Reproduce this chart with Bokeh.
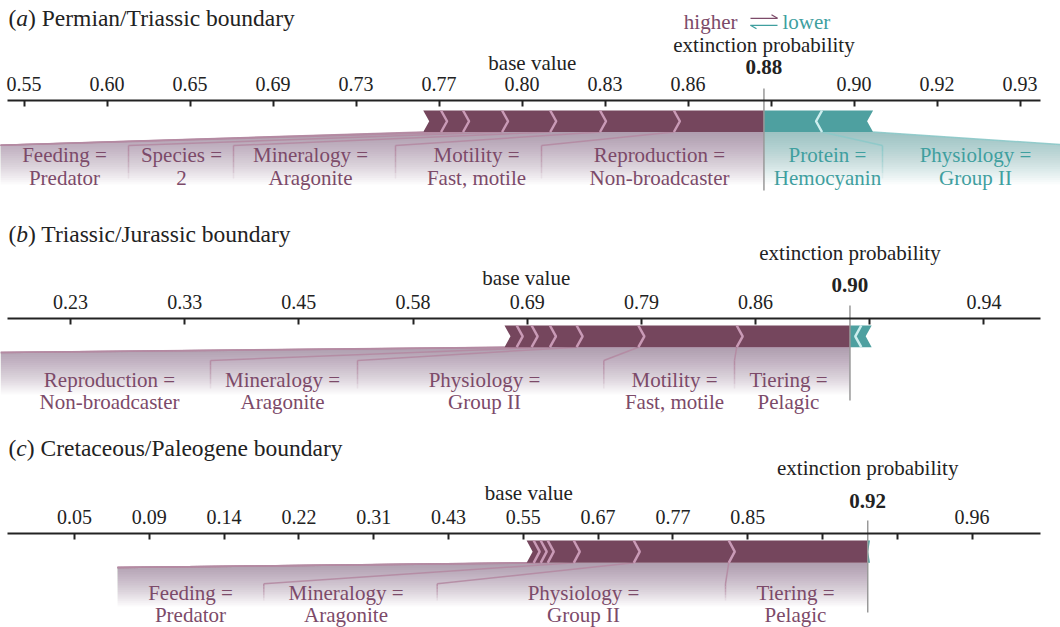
import math
import numpy as np
from bokeh.plotting import figure
from bokeh.layouts import column
from bokeh.models import Range1d, LinearAxis, FixedTicker
from bokeh.core.properties import value
from bokeh.embed import file_html
from bokeh.resources import INLINE

# ---------------------------------------------------------------------------
# Data: SHAP-style additive contributions (log-odds units) per boundary
# ---------------------------------------------------------------------------

# (a) Permian/Triassic boundary
a_title = "Permian/Triassic boundary"
a_output = 0.879
a_pos_features = ["", "", "Feeding", "Species", "Mineralogy", "Motility", "Reproduction"]
a_pos_values = ["", "", "Predator", "2", "Aragonite", "Fast, motile", "Non-broadcaster"]
a_pos_effects = [0.043, 0.053, 0.094, 0.116, 0.120, 0.178, 0.217]
a_neg_features = ["Protein", "Physiology"]
a_neg_values = ["Hemocyanin", "Group II"]
a_neg_effects = [-0.140, -0.123]
a_tick_logits = [0.2, 0.4, 0.6, 0.8, 1.0, 1.2, 1.4, 1.6, 1.8, 2.0, 2.2, 2.4, 2.6]
a_tick_labels = ["0.55", "0.60", "0.65", "0.69", "0.73", "0.77", "0.80", "0.83",
                 "0.86", "", "0.90", "0.92", "0.93"]

# (b) Triassic/Jurassic boundary
b_title = "Triassic/Jurassic boundary"
b_output = 0.904
b_pos_features = ["", "", "Reproduction", "Mineralogy", "Physiology", "Motility", "Tiering"]
b_pos_values = ["", "", "Non-broadcaster", "Aragonite", "Group II", "Fast, motile", "Pelagic"]
b_pos_effects = [0.054, 0.066, 0.081, 0.118, 0.273, 0.435, 0.501]
b_neg_features = ["", ""]
b_neg_values = ["", ""]
b_neg_effects = [-0.050, -0.046]
b_tick_logits = [-1.205, -0.7, -0.195, 0.31, 0.815, 1.32, 1.825, 2.33, 2.835]
b_tick_labels = ["0.23", "0.33", "0.45", "0.58", "0.69", "0.79", "0.86", "", "0.94"]

# (c) Cretaceous/Paleogene boundary
c_title = "Cretaceous/Paleogene boundary"
c_output = 0.917
c_pos_features = ["", "", "", "Feeding", "Mineralogy", "Physiology", "Tiering"]
c_pos_values = ["", "", "", "Predator", "Aragonite", "Group II", "Pelagic"]
c_pos_effects = [0.047, 0.047, 0.047, 0.174, 0.401, 0.635, 0.929]
c_neg_features = [""]
c_neg_values = [""]
c_neg_effects = [-0.015]
c_tick_logits = [-2.9, -2.4, -1.9, -1.4, -0.9, -0.4, 0.1, 0.6, 1.1, 1.6, 2.1, 2.6, 3.1]
c_tick_labels = ["0.05", "0.09", "0.14", "0.22", "0.31", "0.43", "0.55", "0.67",
                 "0.77", "0.85", "", "", "0.96"]

# ---------------------------------------------------------------------------
# Layout (page pixels) for each panel
# ---------------------------------------------------------------------------
LAYOUT = {
    "a": dict(top=0, bottom=205, px0=23.5, L0=0.2, ppu=415.0,
              title_y=25, legend_y=28.3, ext_y=51.7, out_y=74, base_y=70,
              axis_y=100, line_top=88, bar_top=110, bar_bot=131.5, box_top=145,
              fade_end=184, text1_y=161.5, text2_y=184.5,
              corner_left=(-10, 145), corner_right=(1075, 145),
              pos_centers=[None, None, 64, 181, 310, 476, 659],
              pos_edges=[None, None, 128, 233, 395, 541],
              neg_centers=[827, 975], neg_edges=[882]),
    "b": dict(top=205, bottom=420, px0=70.0, L0=-1.205, ppu=226.1,
              title_y=241.7, ext_y=259.3, out_y=291.7, base_y=285,
              axis_y=318, line_top=305, bar_top=325, bar_bot=346.7, box_top=360,
              fade_end=394, text1_y=386.7, text2_y=408.3,
              corner_left=(0, 352), corner_right=None,
              pos_centers=[None, None, 109, 282, 484, 674, 788],
              pos_edges=[None, None, 210, 357, 603.3, 734],
              neg_centers=[None, None], neg_edges=[None]),
    "c": dict(top=420, bottom=627, px0=74.0, L0=-2.9, ppu=149.6,
              title_y=455, ext_y=475, out_y=507.7, base_y=500,
              axis_y=533, line_top=520, bar_top=540, bar_bot=562.3, box_top=583.3,
              fade_end=606, text1_y=600, text2_y=621.7,
              corner_left=(117, 567), corner_right=None,
              pos_centers=[None, None, None, 190, 345.5, 583, 795],
              pos_edges=[None, None, None, 263.3, 436.7, 725],
              neg_centers=[None], neg_edges=[]),
}

SERIF = value("Liberation Serif")
INK = "#222222"
RED_BAR = "#75465d"
TEAL_BAR = "#4ea0a0"
RED_TEXT = "#7c4a69"
TEAL_TEXT = "#3f9f9f"
RED_SEP = "#c99ab6"
TEAL_SEP = "#cdeeee"
RED_LINK = "#b48aa2"
TEAL_LINK = "#8cc9c9"
# the text glyph sits its baseline a little below the anchor; lift by this share of the size
BASELINE_LIFT = 0.34


def logit(p):
    return math.log(p / (1.0 - p))


def clip_chain(chain, ycut):
    """Cut a top-to-bottom polyline at depth ycut."""
    out = [chain[0]]
    for (x0, y0), (x1, y1) in zip(chain[:-1], chain[1:]):
        if y1 <= ycut:
            out.append((x1, y1))
        else:
            if y0 < ycut:
                f = (ycut - y0) / (y1 - y0)
                out.append((x0 + f * (x1 - x0), ycut))
            break
    return out


def build_panel(letter, title, output, pos_feat, pos_val, pos_eff,
                neg_feat, neg_val, neg_eff, ticks, tick_labels, lay, legend=False):
    def to_l(px):
        return lay["L0"] + (px - lay["px0"]) / lay["ppu"]

    def put_text(xs, y, texts, size, color=INK, align="left", style="normal"):
        p.text(x=xs, y=[y - BASELINE_LIFT * size] * len(xs), text=texts, text_font=SERIF,
               text_font_size=f"{size}px", text_font_style=style, text_color=color,
               text_align=align, text_baseline="alphabetic")

    tip = 6.0 / lay["ppu"]
    top, bottom = lay["top"], lay["bottom"]
    p = figure(width=1060, height=bottom - top,
               x_range=Range1d(to_l(0), to_l(1060)), y_range=Range1d(bottom, top),
               output_backend="svg", toolbar_location=None, min_border=0,
               x_axis_location=None, y_axis_location=None)
    p.outline_line_color = None
    p.grid.visible = False
    p.background_fill_color = "white"
    p.border_fill_color = "white"

    # axis drawn at its own height inside the panel
    ax = LinearAxis(ticker=FixedTicker(ticks=ticks), fixed_location=lay["axis_y"],
                    bounds=(to_l(7), to_l(1040)))
    ax.major_label_overrides = {t: s for t, s in zip(ticks, tick_labels)}
    ax.axis_line_width = 2
    ax.axis_line_color = INK
    ax.major_tick_in = 6
    ax.major_tick_out = 0
    ax.major_tick_line_width = 2
    ax.major_tick_line_color = INK
    ax.minor_tick_in = 0
    ax.minor_tick_out = 0
    ax.major_label_text_font = "Liberation Serif"
    ax.major_label_text_font_size = "20px"
    ax.major_label_text_color = INK
    ax.major_label_standoff = 10
    p.add_layout(ax, "above")

    L_out = logit(output)
    pos_total = float(sum(pos_eff))
    neg_total = float(-sum(neg_eff))
    L_left = L_out - pos_total
    L_right = L_out + neg_total
    L_base = L_out - pos_total + neg_total
    pos_bounds = list(L_left + np.concatenate([[0.0], np.cumsum(pos_eff)]))
    neg_bounds = list(L_out + np.concatenate([[0.0], np.cumsum(np.abs(neg_eff))]))

    bt, bb = lay["bar_top"], lay["bar_bot"]
    bm = (bt + bb) / 2.0
    fe, bx = lay["fade_end"], lay["box_top"]

    # --- fading backing that links the bar to the feature labels ---
    def shade(left_chain, right_chain, color):
        n = 24
        d = 1.0 - 0.5 ** (1.0 / n)
        xs, ys = [], []
        for k in range(1, n + 1):
            yc = bb + (fe - bb) * k / n
            poly = clip_chain(left_chain, yc) + clip_chain(right_chain, yc)[::-1]
            xs.append([q[0] for q in poly])
            ys.append([q[1] for q in poly])
        p.patches(xs, ys, fill_color=color, fill_alpha=d, line_color=None)

    def links(bounds, edges, corner, outer_x, color):
        sx, sy = [], []
        fx, fy, fa = [], [], []
        cx, cy = to_l(corner[0]), corner[1]
        sx.append([outer_x, cx])
        sy.append([bb, cy])
        for xb, e in zip(bounds, edges):
            if e is None:
                sx.append([xb, cx])
                sy.append([bb, cy])
            else:
                ex = to_l(e)
                sx.append([xb, ex])
                sy.append([bb, bx])
                steps = 6
                for j in range(steps):
                    y0 = bx + (fe - 6 - bx) * j / steps
                    y1 = bx + (fe - 6 - bx) * (j + 1) / steps
                    fx.append([ex, ex])
                    fy.append([y0, y1])
                    fa.append(0.9 * (1.0 - j / steps))
        p.multi_line(sx, sy, line_color=color, line_alpha=0.9, line_width=1.5)
        if fx:
            p.multi_line(xs=fx, ys=fy, line_color=color, line_alpha=fa, line_width=1.5)

    if any(pos_feat):
        cl = lay["corner_left"]
        shade([(L_left, bb), (to_l(cl[0]), cl[1]), (to_l(cl[0]), fe)],
              [(L_out, bb), (L_out, fe)], RED_BAR)
        links(pos_bounds[1:-1], lay["pos_edges"], cl, L_left, RED_LINK)
    if any(neg_feat):
        cr = lay["corner_right"]
        shade([(L_out, bb), (L_out, fe)],
              [(L_right, bb), (to_l(cr[0]), cr[1]), (to_l(cr[0]), fe)], TEAL_BAR)
        links(neg_bounds[1:-1], lay["neg_edges"], cr, L_right, TEAL_LINK)

    # --- force bar ---
    p.patch([L_left, L_out, L_out, L_left, L_left + tip], [bt, bt, bb, bb, bm],
            fill_color=RED_BAR, line_color=None)
    tipn = min(tip, 0.8 * neg_total)
    p.patch([L_out, L_right, L_right - tipn, L_right, L_out], [bt, bt, bm, bb, bb],
            fill_color=TEAL_BAR, line_color=None)
    p.multi_line([[x, x + tip, x] for x in pos_bounds[1:-1]],
                 [[bt, bm, bb] for _ in pos_bounds[1:-1]],
                 line_color=RED_SEP, line_width=2.5)
    if len(neg_bounds) > 2:
        p.multi_line([[x, x - tip, x] for x in neg_bounds[1:-1]],
                     [[bt, bm, bb] for _ in neg_bounds[1:-1]],
                     line_color=TEAL_SEP, line_width=2.5)

    # output marker line
    p.segment(x0=[L_out], y0=[lay["line_top"]], x1=[L_out], y1=[fe + 6],
              line_color="#999999", line_width=1.5)

    # --- feature labels ---
    def feature_text(names, vals, centers, color):
        xs, n1, v1 = [], [], []
        for nm, vl, c in zip(names, vals, centers):
            if nm and c is not None:
                xs.append(to_l(c))
                n1.append(nm + " =")
                v1.append(vl)
        if xs:
            put_text(xs, lay["text1_y"], n1, 21, color, "center")
            put_text(xs, lay["text2_y"], v1, 21, color, "center")

    feature_text(pos_feat, pos_val, lay["pos_centers"], RED_TEXT)
    feature_text(neg_feat, neg_val, lay["neg_centers"], TEAL_TEXT)

    # --- header texts ---
    tsize = 23.5
    wparen = 0.333 * tsize
    wletter = (0.444 if letter == "c" else 0.5) * tsize
    ty = lay["title_y"]
    put_text([to_l(8)], ty, ["("], tsize)
    put_text([to_l(8 + wparen)], ty, [letter], tsize, style="italic")
    put_text([to_l(8 + wparen + wletter)], ty, [") " + title], tsize)

    put_text([L_out], lay["ext_y"], ["extinction probability"], 21, align="center")
    put_text([L_out], lay["out_y"], [f"{output:.2f}"], 21, align="center", style="bold")
    put_text([L_base], lay["base_y"], ["base value"], 21, align="center")

    if legend:
        ly = lay["legend_y"]
        put_text([to_l(737)], ly, ["higher"], 21, RED_TEXT, "right")
        put_text([to_l(782)], ly, ["lower"], 21, TEAL_TEXT, "left")
        xa, xb_ = to_l(750), to_l(777)
        xh1, xh2 = to_l(771), to_l(756)
        p.multi_line([[xa, xb_], [xh1, xb_]], [[ly - 10.5, ly - 10.5], [ly - 14.0, ly - 10.5]],
                     line_color=RED_TEXT, line_width=1.3)
        p.multi_line([[xa, xb_], [xa, xh2]], [[ly - 3.5, ly - 3.5], [ly - 3.5, ly - 0.0]],
                     line_color=TEAL_TEXT, line_width=1.3)
    return p


pa = build_panel("a", a_title, a_output, a_pos_features, a_pos_values, a_pos_effects,
                 a_neg_features, a_neg_values, a_neg_effects, a_tick_logits, a_tick_labels,
                 LAYOUT["a"], legend=True)
pb = build_panel("b", b_title, b_output, b_pos_features, b_pos_values, b_pos_effects,
                 b_neg_features, b_neg_values, b_neg_effects, b_tick_logits, b_tick_labels,
                 LAYOUT["b"])
pc = build_panel("c", c_title, c_output, c_pos_features, c_pos_values, c_pos_effects,
                 c_neg_features, c_neg_values, c_neg_effects, c_tick_logits, c_tick_labels,
                 LAYOUT["c"])

layout = column(pa, pb, pc, spacing=0)
open("out.html", "w").write(file_html(layout, INLINE))
